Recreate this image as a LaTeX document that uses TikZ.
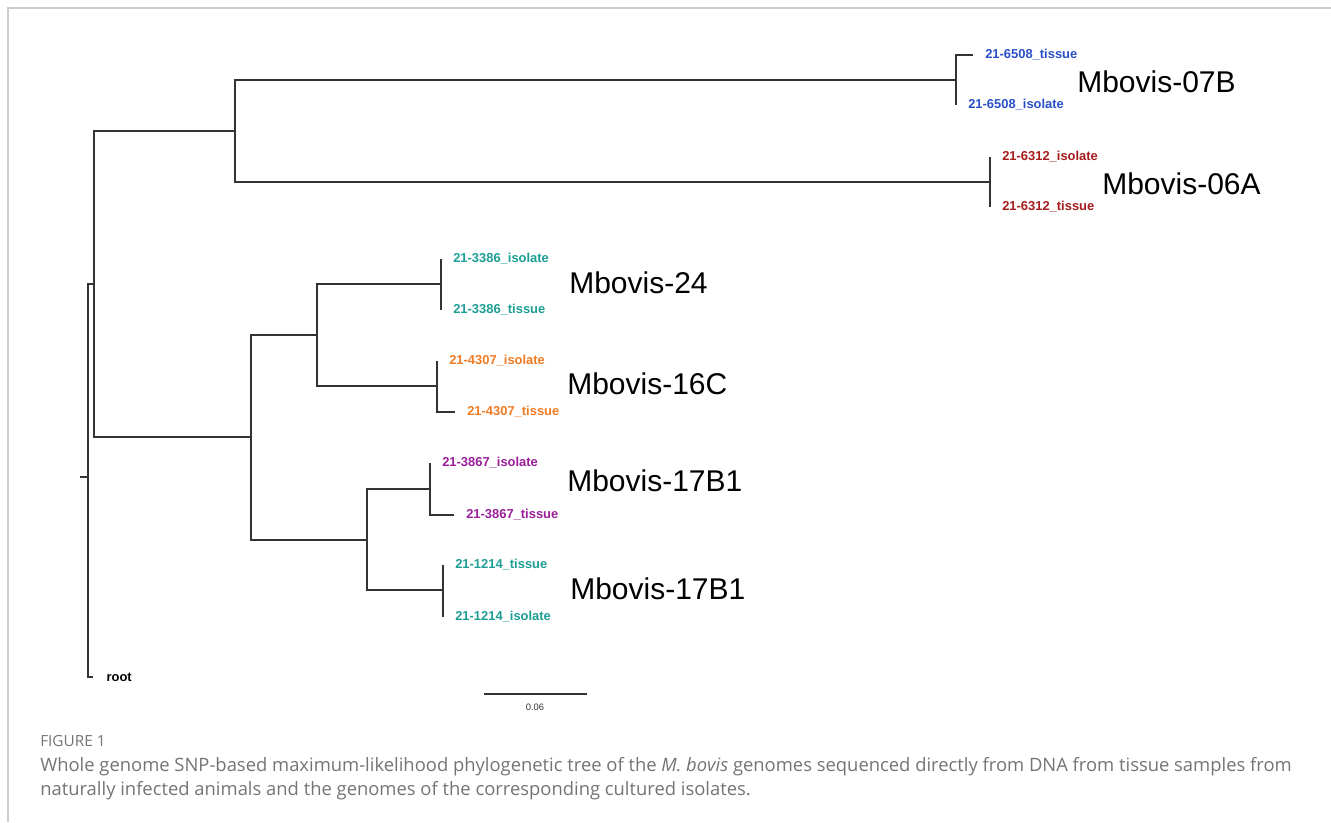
\documentclass[tikz,border=0pt]{standalone}
\usepackage{fontspec}
\setmainfont{Liberation Sans}
\newfontfamily\capfont{Open Sans}
\definecolor{tblue}{HTML}{2A50C8}
\definecolor{tred}{HTML}{A51C1C}
\definecolor{tteal}{HTML}{1C9E94}
\definecolor{torange}{HTML}{F07A22}
\definecolor{tpurple}{HTML}{9A1E9A}
\definecolor{branch}{HTML}{333333}
\definecolor{capgray}{HTML}{747474}
\definecolor{framegray}{HTML}{CCCCCC}
\tikzset{
  br/.style={draw=branch, line width=1pt},
  tiplab/.style={anchor=west, inner sep=0pt, xshift=9, font=\fontsize{9.7}{11}\selectfont\bfseries},
  clade/.style={anchor=west, inner sep=0pt, font=\fontsize{22.5}{26}\selectfont, text=black},
  captext/.style={anchor=west, inner sep=0pt, text=capgray, font=\capfont\fontsize{13.8}{16}\selectfont},
}
\begin{document}
\begin{tikzpicture}[x=0.75pt, y=-0.75pt]
\useasboundingbox (0,0) rectangle (1331,822);
% frame
\draw[framegray, line width=1.5pt] (8,822) -- (8,8) -- (1331,8);
% internal nodes
\coordinate (stub) at (80,477);
\coordinate (R0) at (88,477);
\coordinate (N1) at (94,284);
\coordinate (rootleaf) at (93,677);
\coordinate (N2) at (235,131);
\coordinate (A) at (956,80);
\coordinate (B) at (990,182);
\coordinate (N3) at (251,437);
\coordinate (C) at (317,335);
\coordinate (E) at (441,284);
\coordinate (F) at (437,386);
\coordinate (D) at (367,540);
\coordinate (G) at (430,489);
\coordinate (H) at (443,590);
% tips
\coordinate (a1) at (973,55);
\coordinate (a2) at (956,105);
\coordinate (b1) at (990,157);
\coordinate (b2) at (990,207);
\coordinate (e1) at (441,259);
\coordinate (e2) at (441,310);
\coordinate (f1) at (437,361);
\coordinate (f2) at (455,412);
\coordinate (g1) at (430,463);
\coordinate (g2) at (454,515);
\coordinate (h1) at (443,565);
\coordinate (h2) at (443,617);
% branches
\draw[br] (stub) -- (R0);
\draw[br] (R0) |- (N1);
\draw[br] (R0) |- (rootleaf);
\draw[br] (N1) |- (N2);
\draw[br] (N1) |- (N3);
\draw[br] (N2) |- (A);
\draw[br] (N2) |- (B);
\draw[br] (A) |- (a1);
\draw[br] (A) |- (a2);
\draw[br] (B) |- (b1);
\draw[br] (B) |- (b2);
\draw[br] (N3) |- (C);
\draw[br] (N3) |- (D);
\draw[br] (C) |- (E);
\draw[br] (C) |- (F);
\draw[br] (E) |- (e1);
\draw[br] (E) |- (e2);
\draw[br] (F) |- (f1);
\draw[br] (F) |- (f2);
\draw[br] (D) |- (G);
\draw[br] (D) |- (H);
\draw[br] (G) |- (g1);
\draw[br] (G) |- (g2);
\draw[br] (H) |- (h1);
\draw[br] (H) |- (h2);
% tip labels
\node[tiplab, text=tblue] (la1) at (a1) {21-6508\_tissue};
\node[tiplab, text=tblue] (la2) at (a2) {21-6508\_isolate};
\node[tiplab, text=tred] (lb1) at (b1) {21-6312\_isolate};
\node[tiplab, text=tred] (lb2) at (b2) {21-6312\_tissue};
\node[tiplab, text=tteal] (le1) at (e1) {21-3386\_isolate};
\node[tiplab, text=tteal] (le2) at (e2) {21-3386\_tissue};
\node[tiplab, text=torange] (lf1) at (f1) {21-4307\_isolate};
\node[tiplab, text=torange] (lf2) at (f2) {21-4307\_tissue};
\node[tiplab, text=tpurple] (lg1) at (g1) {21-3867\_isolate};
\node[tiplab, text=tpurple] (lg2) at (g2) {21-3867\_tissue};
\node[tiplab, text=tteal] (lh1) at (h1) {21-1214\_tissue};
\node[tiplab, text=tteal] (lh2) at (h2) {21-1214\_isolate};
\node[tiplab, text=black, xshift=1] (lroot) at (rootleaf) {root};
% clade labels
\node[clade] (c07B) at (1077,82) {Mbovis-07B};
\node[clade] (c06A) at (1102,184) {Mbovis-06A};
\node[clade] (c24) at (569,283) {Mbovis-24};
\node[clade] (c16C) at (567,384) {Mbovis-16C};
\node[clade] (c17a) at (567,481) {Mbovis-17B1};
\node[clade] (c17b) at (570,589) {Mbovis-17B1};
% scale bar
\coordinate (sb1) at (484,694);
\coordinate (sb2) at (587,694);
\draw[branch, line width=0.8pt] (sb1) -- (sb2);
\node[inner sep=0pt, font=\fontsize{7}{8}\selectfont, text=branch] (sblab) at (535,707) {0.06};
% caption
\node[captext, font=\capfont\fontsize{11.5}{13}\selectfont] (fig) at (40,741) {FIGURE 1};
\node[captext] (cap1) at (40,767) {Whole genome SNP-based maximum-likelihood phylogenetic tree of the \textit{M. bovis} genomes sequenced directly from DNA from tissue samples from};
\node[captext] (cap2) at (40,791) {naturally infected animals and the genomes of the corresponding cultured isolates.};
\end{tikzpicture}
\end{document}
